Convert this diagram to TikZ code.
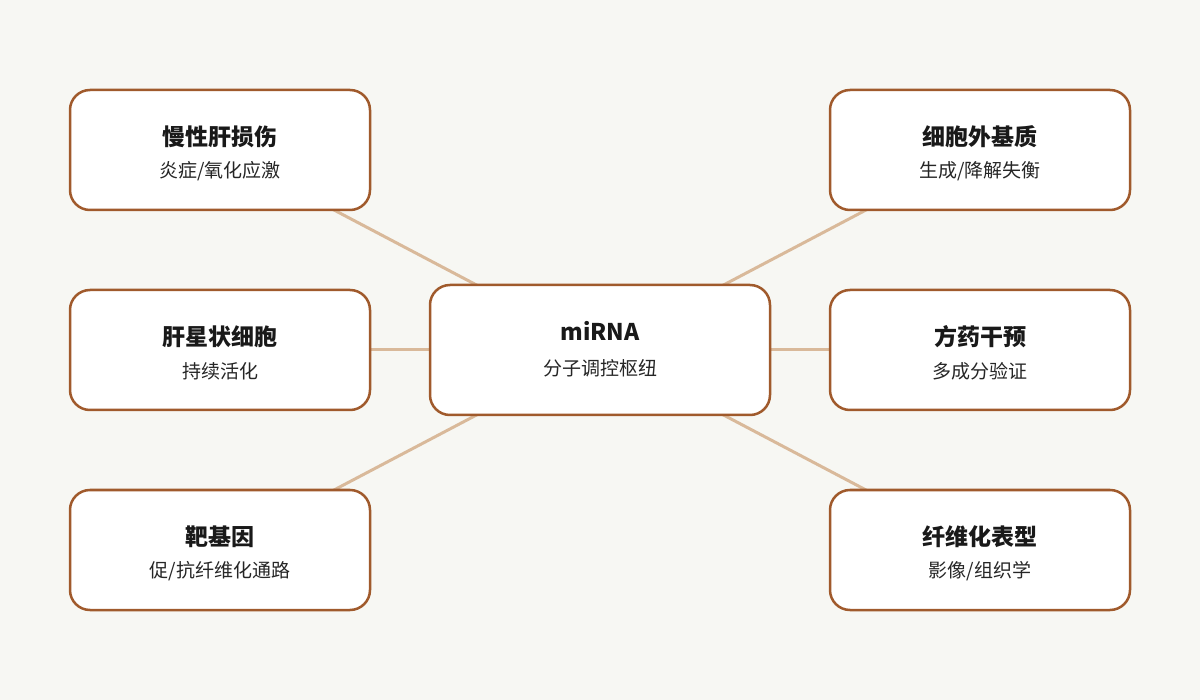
\documentclass[tikz,border=0pt]{standalone}
\usepackage{fontspec}
\setmainfont{Noto Sans CJK SC}
\usetikzlibrary{calc}
\definecolor{bg}{HTML}{F7F7F3}
\definecolor{bd}{HTML}{A05A2C}
\definecolor{ln}{HTML}{D9B99A}
\begin{document}
\begin{tikzpicture}[x=1pt,y=-1pt,
  box/.style={draw=bd,line width=2.5pt,fill=white,rounded corners=20pt,minimum width=300pt,minimum height=120pt,inner sep=0pt},
  cbox/.style={box,minimum width=340pt,minimum height=130pt},
  conn/.style={draw=ln,line width=3pt},
  ttl/.style={font=\bfseries\fontsize{23}{27}\selectfont,text=black!90},
  sub/.style={font=\fontsize{19}{23}\selectfont,text=black!85}]
\fill[bg] (0,0) rectangle (1200,700);
\useasboundingbox (0,0) rectangle (1200,700);
\coordinate (C) at (600,350);
\coordinate (A) at (220,150);
\coordinate (B) at (220,350);
\coordinate (D) at (220,550);
\coordinate (E) at (980,150);
\coordinate (F) at (980,350);
\coordinate (G) at (980,550);
\foreach \p in {A,B,D,E,F,G} \draw[conn] (C) -- (\p);
\node[cbox] (c) at (C) {};
\node[ttl] at (600,331) {miRNA};
\node[sub] at (600,368) {分子调控枢纽};
\foreach \n/\p/\t/\s in {a/A/慢性肝损伤/{炎症/氧化应激}, b/B/肝星状细胞/持续活化, d/D/靶基因/{促/抗纤维化通路}, e/E/细胞外基质/{生成/降解失衡}, f/F/方药干预/多成分验证, g/G/纤维化表型/{影像/组织学}}{
  \node[box] (\n) at (\p) {};
  \node[ttl] at ($(\p)+(0,-13)$) {\t};
  \node[sub] at ($(\p)+(0,21)$) {\s};
}
\end{tikzpicture}
\end{document}
